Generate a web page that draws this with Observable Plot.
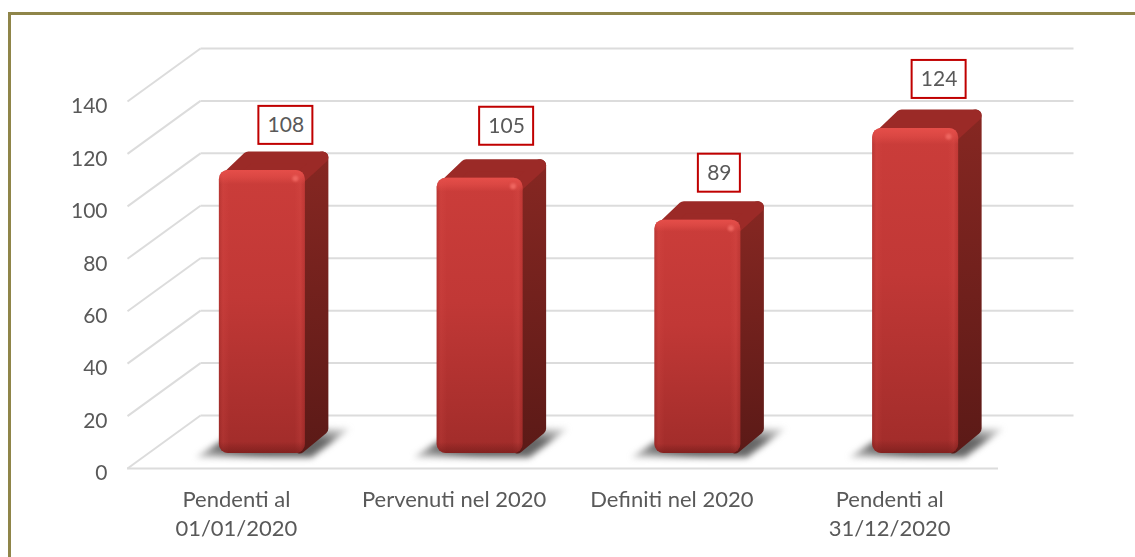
<!DOCTYPE html>
<html>
<head>
<meta charset="utf-8">
<script src="https://cdn.jsdelivr.net/npm/d3@7"></script>
<script src="https://cdn.jsdelivr.net/npm/@observablehq/plot@0.6"></script>
<style>
html,body{margin:0;padding:0;background:#fff;overflow:hidden}
#wrap{position:relative;width:1135px;height:557px}
#wrap svg{display:block;filter:blur(.35px)}
#edge{position:absolute;left:8px;top:12px;right:0;bottom:0;border-top:3px solid #8f8549;border-left:3px solid #8f8549;pointer-events:none}
</style>
</head>
<body>
<div id="wrap"><div id="edge"></div></div>
<script>
// ---- data
const categories = ["Pendenti al\n01/01/2020", "Pervenuti nel 2020", "Definiti nel 2020", "Pendenti al\n31/12/2020"];
const values = [108, 105, 89, 124];
const yTicks = [0, 20, 40, 60, 80, 100, 120, 140];

// ---- layout of the fake 3-D projection (pixels, converted to scale units)
const W = 1135, H = 557, mL = 127, mR = 137, mT = 101, mB = 89;
const ux = 4 / (W - mL - mR), uy = 140 / (H - mT - mB);
const wallDx = 73, wallDy = 53, wallEnd = 75;
const barOffset = 26 - 43, barW = 86, barBase = 15;
const labelDy = [45, 52, 47, 49], labelDx = [23.5, 26.5, 21.5, 23.5], labelH = 38;
const cx = i => i + 0.5;
const X = (i, px) => cx(i) + (barOffset + px) * ux;
const Y = (v, px) => v + (barBase - px) * uy; // px measured downward from the bar top
const bars = values.map((v, i) => ({i, v, h: v / uy}));

const face = pts => b => pts(b).concat([pts(b)[0]]).map(([px, py]) => ({k: b.i, x: X(b.i, px), y: Y(b.v, py)}));
const topFace = bars.flatMap(face(b => [[7, 8], [80, 8], [103, -13], [29, -13]]));
const sideFace = bars.flatMap(face(b => [[80, 6], [103, -13], [103, b.h - 25], [80, b.h - 6]]));
const shadow = bars.flatMap(face(b => [[-24, b.h + 4], [92, b.h + 4], [131, b.h - 25], [22, b.h - 25]]));

const grid = yTicks.map(v => ({v}));
const txt = "#595959", line = "#dcdcdc";
const labelW = d => 18 + 12 * String(d.v).length;

const plot = Plot.plot({
  width: W, height: H, marginLeft: mL, marginRight: mR, marginTop: mT, marginBottom: mB,
  style: {fontFamily: "Lato, 'Open Sans', sans-serif", background: "transparent"},
  x: {domain: [0, 4], axis: null},
  y: {domain: [0, 140], axis: null},
  marks: [
    // walls and floor
    Plot.link(grid, {x1: 0, y1: d => d.v, x2: wallDx * ux, y2: d => d.v + wallDy * uy, stroke: line, strokeWidth: 2}),
    Plot.link(grid, {x1: wallDx * ux, y1: d => d.v + wallDy * uy, x2: 4 + wallEnd * ux, y2: d => d.v + wallDy * uy, stroke: line, strokeWidth: 2}),
    Plot.ruleY([0], {stroke: line, strokeWidth: 2}),
    // floor shadows
    Plot.line(shadow, {x: "x", y: "y", z: "k", fill: "url(#shade)", stroke: "none", imageFilter: "blur(3px)"}),
    // bars
    Plot.line(sideFace, {x: "x", y: "y", z: "k", fill: "url(#side)", stroke: "url(#side)", strokeWidth: 12, strokeLinejoin: "round"}),
    Plot.line(topFace, {x: "x", y: "y", z: "k", fill: "#9b2a27", stroke: "#9b2a27", strokeWidth: 12, strokeLinejoin: "round"}),
    Plot.rect(bars, {x1: d => X(d.i, 0), x2: d => X(d.i, barW), y1: d => Y(0, 0) , y2: d => Y(d.v, 0), fill: "url(#front)", rx: 9}),
    Plot.rect(bars, {x1: d => X(d.i, 0), x2: d => X(d.i, barW), y1: d => Y(0, 0), y2: d => Y(d.v, 0), fill: "url(#rimH)", rx: 9}),
    Plot.rect(bars, {x1: d => X(d.i, 0), x2: d => X(d.i, barW), y1: d => Y(0, 0), y2: d => Y(d.v, 0), fill: "url(#rimV)", rx: 9}),
    Plot.dot(bars, {x: d => X(d.i, 76), y: d => Y(d.v, 8), r: 3, fill: "#ee6660", imageFilter: "blur(1.2px)"}),
    // value labels
    Plot.rect(bars, {
      x1: d => X(d.i, barW / 2 + labelDx[d.i] - labelW(d) / 2),
      x2: d => X(d.i, barW / 2 + labelDx[d.i] + labelW(d) / 2),
      y1: d => Y(d.v, -labelDy[d.i] - labelH / 2),
      y2: d => Y(d.v, -labelDy[d.i] + labelH / 2),
      fill: "#fff", stroke: "#c00000", strokeWidth: 2
    }),
    Plot.text(bars, {x: d => X(d.i, barW / 2 + labelDx[d.i]), y: d => Y(d.v, -labelDy[d.i]), text: d => String(d.v), fontSize: 21, fill: txt}),
    // axes
    Plot.axisY({ticks: yTicks, tickSize: 0, tickPadding: 20, fontSize: 21, fill: txt, dy: 5, label: null}),
    Plot.axisX({ticks: categories.map((c, i) => cx(i)), tickFormat: d => categories[Math.round(d - 0.5)], tickSize: 0, tickPadding: 18, fontSize: 22, fill: txt, lineHeight: 1.32, lineAnchor: "top", label: null})
  ]
});
plot.insertAdjacentHTML("afterbegin", `<defs>
<linearGradient id="front" x1="0" y1="0" x2="0" y2="1"><stop offset="0" stop-color="#cb3d3a"/><stop offset=".45" stop-color="#c13836"/><stop offset="1" stop-color="#a12c2a"/></linearGradient>
<linearGradient id="side" x1="0" y1="0" x2="0" y2="1"><stop offset="0" stop-color="#862722"/><stop offset="1" stop-color="#5c1a17"/></linearGradient>
<linearGradient id="shade" x1="0" y1="1" x2="1" y2="0"><stop offset="0" stop-color="#777" stop-opacity=".3"/><stop offset=".25" stop-color="#666"/><stop offset=".7" stop-color="#666"/><stop offset="1" stop-color="#888" stop-opacity=".2"/></linearGradient>
<linearGradient id="rimH" x1="0" y1="0" x2="1" y2="0"><stop offset="0" stop-color="#7a1c1a" stop-opacity=".25"/><stop offset=".05" stop-color="#e25550" stop-opacity=".15"/><stop offset=".12" stop-color="#e25550" stop-opacity="0"/><stop offset=".88" stop-color="#e25550" stop-opacity="0"/><stop offset=".95" stop-color="#e25550" stop-opacity=".18"/><stop offset="1" stop-color="#7a1c1a" stop-opacity=".12"/></linearGradient>
<linearGradient id="rimV" x1="0" y1="0" x2="0" y2="1"><stop offset="0" stop-color="#e8504b" stop-opacity=".9"/><stop offset=".025" stop-color="#e8504b" stop-opacity=".55"/><stop offset=".05" stop-color="#e8504b" stop-opacity="0"/><stop offset=".96" stop-color="#6e1a18" stop-opacity="0"/><stop offset="1" stop-color="#6e1a18" stop-opacity=".6"/></linearGradient>
</defs>`);
document.getElementById("wrap").prepend(plot);
</script>
</body>
</html>
